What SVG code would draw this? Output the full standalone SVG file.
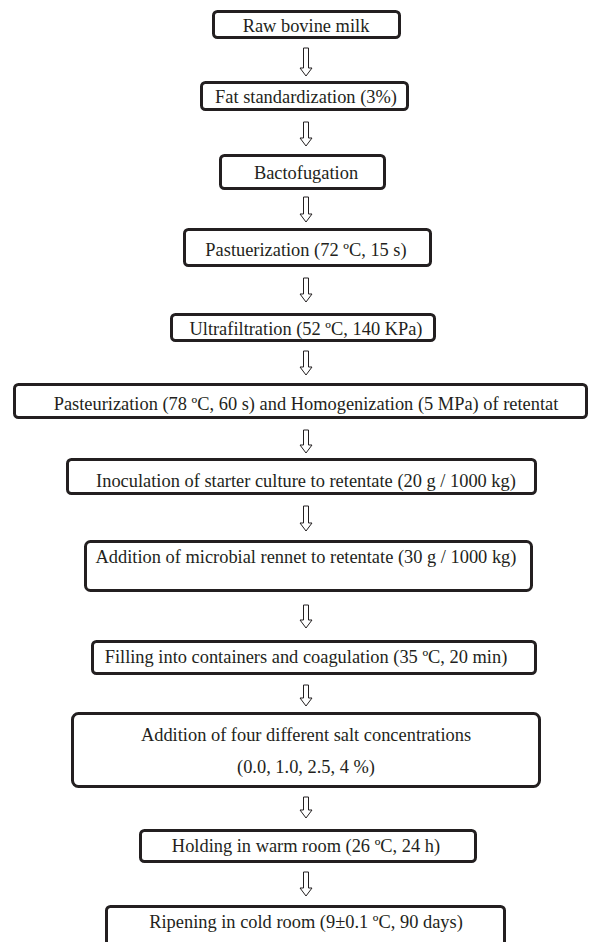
<svg xmlns="http://www.w3.org/2000/svg" width="589" height="942" viewBox="0 0 589 942">
<style>
.box{fill:#fff;stroke:#231f20;stroke-width:3}
.t{font-family:"Liberation Serif","Times New Roman",serif;font-size:18.4px;fill:#231f20;text-anchor:middle}
.arr{fill:#fff;stroke:#231f20;stroke-width:1}
</style>
<defs>
<path id="a" d="M-2.5,0 H2.5 V-8 H6 L0,0 L-6,-8 H-2.5 Z"/>
</defs>
<rect width="589" height="942" fill="#fff"/>
<g id="connectors">
<path class="arr" d="M303.5,48 H308.5 V68 H312 L306,76 L300,68 H303.5 Z"/>
<path class="arr" d="M303.5,122 H308.5 V138 H312 L306,146 L300,138 H303.5 Z"/>
<path class="arr" d="M303.5,197 H308.5 V214 H312 L306,222 L300,214 H303.5 Z"/>
<path class="arr" d="M303.5,278 H308.5 V294 H312 L306,302 L300,294 H303.5 Z"/>
<path class="arr" d="M303.5,351 H308.5 V367 H312 L306,375 L300,367 H303.5 Z"/>
<path class="arr" d="M303.5,430 H308.5 V445 H312 L306,453 L300,445 H303.5 Z"/>
<path class="arr" d="M303.5,506 H308.5 V523 H312 L306,531 L300,523 H303.5 Z"/>
<path class="arr" d="M303.5,605 H308.5 V620 H312 L306,628 L300,620 H303.5 Z"/>
<path class="arr" d="M303.5,685 H308.5 V698 H312 L306,706 L300,698 H303.5 Z"/>
<path class="arr" d="M303.5,797 H308.5 V810 H312 L306,818 L300,810 H303.5 Z"/>
<path class="arr" d="M303.5,872 H308.5 V888 H312 L306,896 L300,888 H303.5 Z"/>
</g>
<g id="n1"><rect class="box" x="213.5" y="11.5" width="186" height="26" rx="4"/><text class="t" x="306" y="32">Raw bovine milk</text></g>
<g id="n2"><rect class="box" x="201.5" y="82.5" width="206" height="27" rx="4"/><text class="t" x="306" y="103">Fat standardization (3%)</text></g>
<g id="n3"><rect class="box" x="220.5" y="155.5" width="164" height="33" rx="4"/><text class="t" x="306" y="179">Bactofugation</text></g>
<g id="n4"><rect class="box" x="184.5" y="229.5" width="246" height="36" rx="4"/><text class="t" x="306" y="256">Pastuerization (72 ºC, 15 s)</text></g>
<g id="n5"><rect class="box" x="171.5" y="314.5" width="263" height="26" rx="4"/><text class="t" x="306" y="335">Ultrafiltration (52 ºC, 140 KPa)</text></g>
<g id="n6"><rect class="box" x="14.5" y="384.5" width="572" height="33" rx="4"/><text class="t" x="306" y="410">Pasteurization (78 ºC, 60 s) and Homogenization (5 MPa) of retentat</text></g>
<g id="n7"><rect class="box" x="67.5" y="459.5" width="468" height="34" rx="4"/><text class="t" x="306" y="487">Inoculation of starter culture to retentate (20 g / 1000 kg)</text></g>
<g id="n8"><rect class="box" x="85.5" y="541.5" width="446" height="49" rx="5"/><text class="t" x="306" y="563">Addition of microbial rennet to retentate (30 g / 1000 kg)</text></g>
<g id="n9"><rect class="box" x="92.5" y="641.5" width="443" height="32" rx="4"/><text class="t" x="306" y="663">Filling into containers and coagulation (35 ºC, 20 min)</text></g>
<g id="n10"><rect class="box" x="72.5" y="713.5" width="467" height="73" rx="6"/><text class="t" x="306" y="741">Addition of four different salt concentrations</text><text class="t" x="306" y="773">(0.0, 1.0, 2.5, 4 %)</text></g>
<g id="n11"><rect class="box" x="140.5" y="830.5" width="335" height="31" rx="4"/><text class="t" x="306" y="852">Holding in warm room (26 ºC, 24 h)</text></g>
<g id="n12"><rect class="box" x="106.5" y="906.5" width="398" height="44" rx="4"/><text class="t" x="306" y="928">Ripening in cold room (9±0.1 ºC, 90 days)</text></g>
</svg>
